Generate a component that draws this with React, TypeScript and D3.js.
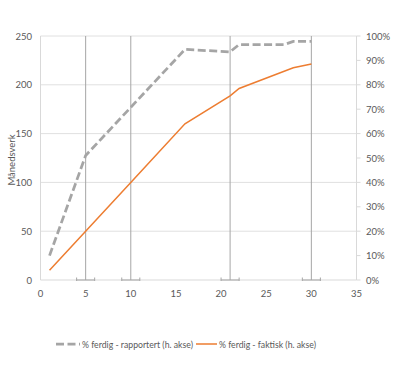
import * as React from "react";
import * as d3 from "d3";

// month -> % complete (right axis)
const REPORTED_X = [1, 5, 16, 21, 22, 27, 28, 30];
const REPORTED_Y = [0.1, 0.51, 0.945, 0.935, 0.965, 0.965, 0.978, 0.978];
const ACTUAL_X = [1, 5, 10, 16, 21, 22, 28, 30];
const ACTUAL_Y = [0.04, 0.2, 0.4, 0.64, 0.755, 0.785, 0.87, 0.885];
const MILESTONES = [5, 10, 21, 30];

const LEFT_TICKS = [0, 50, 100, 150, 200, 250];
const RIGHT_TICKS = [0, 0.1, 0.2, 0.3, 0.4, 0.5, 0.6, 0.7, 0.8, 0.9, 1];
const X_TICKS = [0, 5, 10, 15, 20, 25, 30, 35];

const LEGEND = ["% ferdig - rapportert (h. akse)", "% ferdig - faktisk (h. akse)"];
const Y_TITLE = "Månedsverk";

const W = 396;
const H = 365;
const FONT = "Lato, 'Open Sans', sans-serif";
const TXT = "#595959";

export default function App() {
  const x = d3.scaleLinear().domain([0, 35]).range([40.5, 356.5]);
  const yL = d3.scaleLinear().domain([0, 250]).range([280, 36]);
  const yR = d3.scaleLinear().domain([0, 1]).range([280, 36]);

  const line = d3
    .line<[number, number]>()
    .x((d) => x(d[0]))
    .y((d) => yR(d[1]));

  const reported = REPORTED_X.map((v, i) => [v, REPORTED_Y[i]] as [number, number]);
  const actual = ACTUAL_X.map((v, i) => [v, ACTUAL_Y[i]] as [number, number]);

  return (
    <svg
      width={W}
      height={H}
      style={{ position: "absolute", left: 0, top: 0, background: "#fff" }}
      fontFamily={FONT}
    >
      {/* grid */}
      {LEFT_TICKS.filter((t) => t > 0).map((t) => (
        <line key={t} x1={x(0)} x2={x(35)} y1={yL(t)} y2={yL(t)} stroke="#e0e0e0" strokeWidth={1} />
      ))}
      {/* axis lines */}
      <line x1={x(0)} x2={x(35)} y1={yL(0)} y2={yL(0)} stroke="#d9d9d9" />
      <line x1={x(0)} x2={x(0)} y1={yL(0)} y2={yL(250)} stroke="#d9d9d9" />
      <line x1={x(35)} x2={x(35)} y1={yL(0)} y2={yL(250)} stroke="#d9d9d9" />
      {RIGHT_TICKS.map((t) => (
        <line key={t} x1={x(35)} x2={x(35) + 4} y1={yR(t)} y2={yR(t)} stroke="#d9d9d9" />
      ))}

      {/* milestone bars */}
      {MILESTONES.map((m) => (
        <g key={m} stroke="#a6a6a6" strokeWidth={1}>
          <line x1={x(m)} x2={x(m)} y1={yL(250)} y2={yL(0)} />
          <line x1={x(m - 1)} x2={x(m + 1)} y1={yL(0)} y2={yL(0)} />
          <line x1={x(m - 1)} x2={x(m - 1)} y1={yL(0) - 2.5} y2={yL(0) + 1} />
          <line x1={x(m + 1)} x2={x(m + 1)} y1={yL(0) - 2.5} y2={yL(0) + 1} />
        </g>
      ))}

      {/* series */}
      <path d={line(reported) ?? ""} fill="none" stroke="#a5a5a5" strokeWidth={2.75} strokeDasharray="8,3.5" />
      <path d={line(actual) ?? ""} fill="none" stroke="#ed7d31" strokeWidth={1.5} />

      {/* tick labels */}
      <g fontSize={9.5} fill={TXT}>
        {LEFT_TICKS.map((t) => (
          <text key={t} x={32} y={yL(t)} textAnchor="end" dominantBaseline="central">
            {t}
          </text>
        ))}
        {RIGHT_TICKS.map((t) => (
          <text key={t} x={366} y={yR(t)} dominantBaseline="central">
            {d3.format(".0%")(t)}
          </text>
        ))}
        {X_TICKS.map((t) => (
          <text key={t} x={x(t)} y={293} textAnchor="middle" dominantBaseline="central">
            {t}
          </text>
        ))}
        <text transform={`translate(11,${yL(125) + 2}) rotate(-90)`} textAnchor="middle" dominantBaseline="central">
          {Y_TITLE}
        </text>
      </g>

      {/* legend */}
      <g fontSize={9.2} fill={TXT}>
        <line x1={56} x2={80} y1={344} y2={344} stroke="#a5a5a5" strokeWidth={2.75} strokeDasharray="8,3.5" />
        <text x={82} y={344} dominantBaseline="central" textLength={111} lengthAdjust="spacingAndGlyphs">
          {LEGEND[0]}
        </text>
        <line x1={196} x2={217} y1={344} y2={344} stroke="#ed7d31" strokeWidth={1.5} />
        <text x={219} y={344} dominantBaseline="central" textLength={97} lengthAdjust="spacingAndGlyphs">
          {LEGEND[1]}
        </text>
      </g>
    </svg>
  );
}
